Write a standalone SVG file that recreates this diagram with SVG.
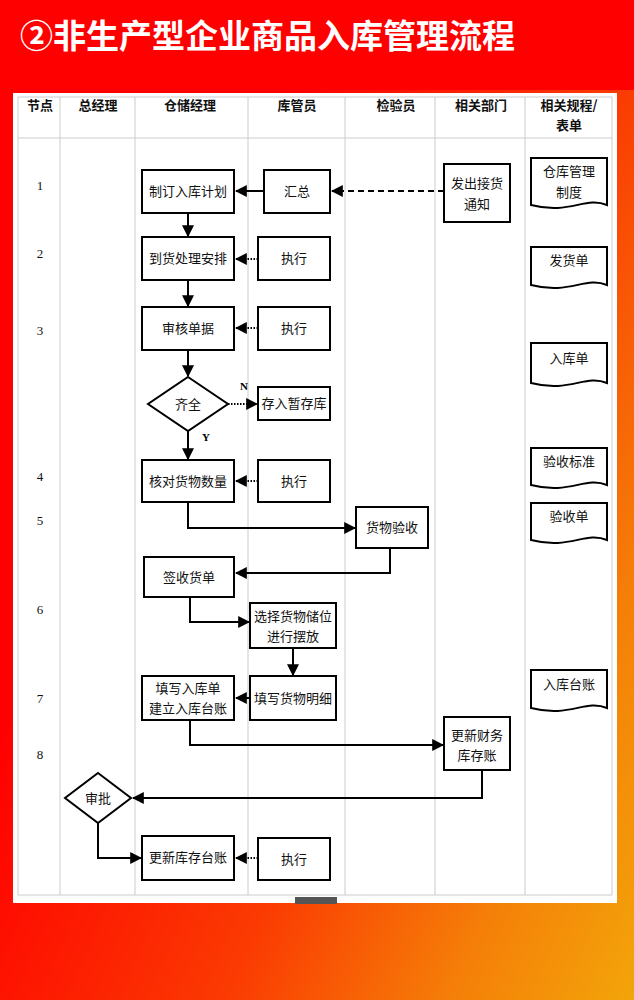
<svg xmlns="http://www.w3.org/2000/svg" width="634" height="1000" viewBox="0 0 634 1000">
<defs>
<linearGradient id="bg" x1="0.2" y1="0.45" x2="1" y2="1">
<stop offset="0" stop-color="#ff0000"/><stop offset="0.45" stop-color="#fb3a02"/><stop offset="0.75" stop-color="#f57e08"/><stop offset="1" stop-color="#f3a50a"/>
</linearGradient>
<marker id="ah" viewBox="0 0 10 10" refX="9" refY="5" markerWidth="6" markerHeight="6" orient="auto"><path d="M0,0 L10,5 L0,10 z" fill="#000"/></marker>
<style>
.b{fill:#fff;stroke:#000;stroke-width:2}
.t{font-family:"Noto Sans CJK SC","Noto Sans",sans-serif;font-size:13px;fill:#111;text-anchor:middle}
.h{font-family:"Noto Sans CJK SC","Noto Sans",sans-serif;font-size:13px;font-weight:bold;fill:#111;text-anchor:middle}
.n{font-family:"Liberation Serif",serif;font-size:13px;fill:#111;text-anchor:middle}
.g{stroke:#ccc;stroke-width:1}
.c{fill:none;stroke:#000;stroke-width:2;marker-end:url(#ah)}
.d{fill:none;stroke:#000;stroke-width:2;stroke-dasharray:6 4;marker-end:url(#ah)}
.o{fill:none;stroke:#000;stroke-width:2;stroke-dasharray:1.5 1.5;marker-end:url(#ah)}
</style>
</defs>
<rect width="634" height="1000" fill="url(#bg)"/>
<rect x="0" y="0" width="634" height="90" fill="#ff0000"/>
<text x="20" y="48" font-family="'Noto Sans CJK SC',sans-serif" font-size="33" font-weight="bold" fill="#fff">②非生产型企业商品入库管理流程</text>
<rect x="13" y="93" width="604" height="810" fill="#fff"/>
<g id="grid">
<line class="g" x1="18" y1="138" x2="612" y2="138"/>
<line class="g" x1="18" y1="97" x2="612" y2="97"/>
<line class="g" x1="18" y1="895" x2="612" y2="895"/>
<line class="g" x1="18" y1="97" x2="18" y2="895"/>
<line class="g" x1="612" y1="97" x2="612" y2="895"/>
<line class="g" x1="60" y1="97" x2="60" y2="895"/>
<line class="g" x1="135" y1="97" x2="135" y2="895"/>
<line class="g" x1="248" y1="97" x2="248" y2="895"/>
<line class="g" x1="345" y1="97" x2="345" y2="895"/>
<line class="g" x1="435" y1="97" x2="435" y2="895"/>
<line class="g" x1="525" y1="97" x2="525" y2="895"/>
</g>
<rect x="295" y="897" width="42" height="7" fill="#555"/>
<g id="header">
<text class="h" x="40" y="110">节点</text><text class="h" x="98" y="110">总经理</text><text class="h" x="190" y="110">仓储经理</text><text class="h" x="297" y="110">库管员</text><text class="h" x="396" y="110">检验员</text><text class="h" x="481" y="110">相关部门</text><text class="h" x="569" y="110">相关规程/</text><text class="h" x="569" y="130">表单</text>
</g>
<g id="nums">
<text class="n" x="40" y="190">1</text><text class="n" x="40" y="258">2</text><text class="n" x="40" y="335">3</text><text class="n" x="40" y="481">4</text><text class="n" x="40" y="525">5</text><text class="n" x="40" y="614">6</text><text class="n" x="40" y="703">7</text><text class="n" x="40" y="759">8</text>
</g>
<g id="connectors">
<path class="c" d="M264,191 H236"/>
<path class="d" d="M444,191 H332"/>
<path class="c" d="M188,213 V236"/>
<path class="o" d="M258,259 H236"/>
<path class="c" d="M188,280 V306"/>
<path class="o" d="M258,328 H236"/>
<path class="c" d="M188,350 V376"/>
<path class="o" d="M228,404 H257"/>
<path class="c" d="M188,431 V459"/>
<path class="o" d="M258,481 H236"/>
<path class="c" d="M188,502 V528 H355"/>
<path class="c" d="M390,548 V573 H236"/>
<path class="c" d="M190,597 V622 H249"/>
<path class="c" d="M293,648 V675"/>
<path class="c" d="M250,698 H236"/>
<path class="c" d="M190,720 V745 H443"/>
<path class="c" d="M482,770 V798 H133"/>
<path class="c" d="M98,823 V858 H141"/>
<path class="o" d="M258,858 H236"/>
<text x="240" y="390" font-family="'Liberation Serif',serif" font-size="11" font-weight="bold">N</text>
<text x="202" y="441" font-family="'Liberation Serif',serif" font-size="11" font-weight="bold">Y</text>
</g>
<g id="n1"><rect class="b" x="142" y="170" width="92" height="43"/><text class="t" x="188" y="196">制订入库计划</text></g>
<g id="n2"><rect class="b" x="264" y="170" width="66" height="43"/><text class="t" x="297" y="196">汇总</text></g>
<g id="n3"><rect class="b" x="444" y="164" width="66" height="58"/><text class="t" x="477" y="188">发出接货</text><text class="t" x="477" y="209">通知</text></g>
<g id="n4"><rect class="b" x="142" y="237" width="92" height="43"/><text class="t" x="188" y="263">到货处理安排</text></g>
<g id="n5"><rect class="b" x="258" y="237" width="72" height="43"/><text class="t" x="294" y="263">执行</text></g>
<g id="n6"><rect class="b" x="142" y="307" width="92" height="43"/><text class="t" x="188" y="333">审核单据</text></g>
<g id="n7"><rect class="b" x="258" y="307" width="72" height="43"/><text class="t" x="294" y="333">执行</text></g>
<g id="n8"><path class="b" d="M188,377 L228,404 L188,431 L148,404 Z"/><text class="t" x="188" y="409">齐全</text></g>
<g id="n9"><rect class="b" x="258" y="387" width="72" height="33"/><text class="t" x="294" y="408">存入暂存库</text></g>
<g id="n10"><rect class="b" x="142" y="460" width="92" height="42"/><text class="t" x="188" y="486">核对货物数量</text></g>
<g id="n11"><rect class="b" x="258" y="460" width="72" height="42"/><text class="t" x="294" y="486">执行</text></g>
<g id="n12"><rect class="b" x="356" y="507" width="72" height="41"/><text class="t" x="392" y="532">货物验收</text></g>
<g id="n13"><rect class="b" x="144" y="557" width="90" height="40"/><text class="t" x="189" y="582">签收货单</text></g>
<g id="n14"><rect class="b" x="250" y="603" width="86" height="45"/><text class="t" x="293" y="621">选择货物储位</text><text class="t" x="293" y="641">进行摆放</text></g>
<g id="n15"><rect class="b" x="142" y="676" width="92" height="44"/><text class="t" x="188" y="693">填写入库单</text><text class="t" x="188" y="713">建立入库台账</text></g>
<g id="n16"><rect class="b" x="250" y="676" width="86" height="44"/><text class="t" x="293" y="703">填写货物明细</text></g>
<g id="n17"><rect class="b" x="444" y="717" width="66" height="53"/><text class="t" x="477" y="740">更新财务</text><text class="t" x="477" y="760">库存账</text></g>
<g id="n18"><path class="b" d="M98,773 L131,798 L98,823 L65,798 Z"/><text class="t" x="98" y="803">审批</text></g>
<g id="n19"><rect class="b" x="142" y="836" width="92" height="44"/><text class="t" x="188" y="862">更新库存台账</text></g>
<g id="n20"><rect class="b" x="258" y="838" width="72" height="42"/><text class="t" x="294" y="864">执行</text></g>
<g id="docs">
<g id="d1"><path class="b" stroke-width="1.5" d="M531,158 H607 V205 C585,196 570,215 531,205 Z"/><text class="t" x="569" y="176">仓库管理</text><text class="t" x="569" y="197">制度</text></g>
<g id="d2"><path class="b" stroke-width="1.5" d="M531,247 H607 V285 C585,276 570,295 531,285 Z"/><text class="t" x="569" y="265">发货单</text></g>
<g id="d3"><path class="b" stroke-width="1.5" d="M531,343 H607 V383 C585,374 570,393 531,383 Z"/><text class="t" x="569" y="363">入库单</text></g>
<g id="d4"><path class="b" stroke-width="1.5" d="M531,448 H607 V485 C585,476 570,495 531,485 Z"/><text class="t" x="569" y="466">验收标准</text></g>
<g id="d5"><path class="b" stroke-width="1.5" d="M531,503 H607 V540 C585,531 570,550 531,540 Z"/><text class="t" x="569" y="521">验收单</text></g>
<g id="d6"><path class="b" stroke-width="1.5" d="M531,670 H607 V708 C585,699 570,718 531,708 Z"/><text class="t" x="569" y="689">入库台账</text></g>
</g>
</svg>
